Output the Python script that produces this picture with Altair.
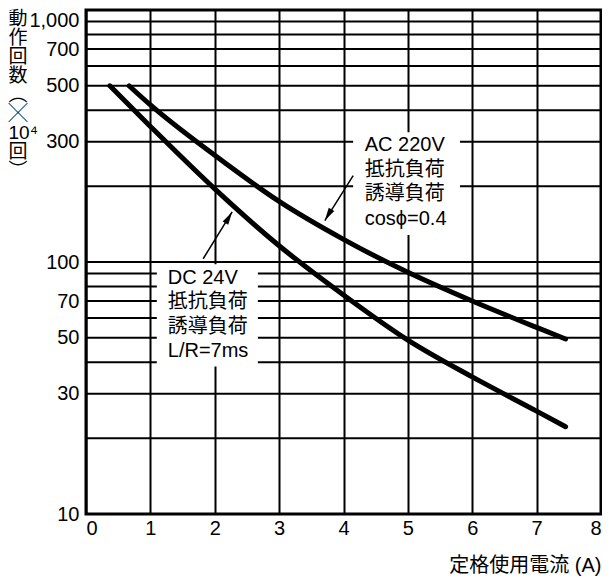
import altair as alt
import pandas as pd

# ---- data ----
dc_current = [0.37, 1, 2, 3, 4, 5, 6, 7, 7.45]
dc_ops = [500, 345, 195, 116, 74, 49, 35, 25.6, 22.2]
ac_current = [0.67, 1, 2, 3, 4, 5, 6, 7, 7.45]
ac_ops = [500, 420, 265, 174, 123, 91, 70, 55, 49.5]

x_ticks = [0, 1, 2, 3, 4, 5, 6, 7, 8]
y_labels = [10, 30, 50, 70, 100, 300, 500, 700, 1000]
y_grid = [20, 30, 40, 50, 60, 70, 80, 90, 100, 200, 300, 400, 500, 600, 700, 800, 900]

ac_text = ["AC 220V", "抵抗負荷", "誘導負荷", "cosϕ=0.4"]
dc_text = ["DC 24V", "抵抗負荷", "誘導負荷", "L/R=7ms"]

# annotation anchors (data units)
label_x = [4.33, 1.27]
label_y = [290, 86.7]
box_x1 = [4.15, 1.10]
box_x2 = [5.81, 2.67]
box_y1 = [128, 38.5]
box_y2 = [327, 98]
arrow_x0 = [4.15, 1.82]
arrow_y0 = [220, 103]
arrow_x1 = [3.71, 2.27]
arrow_y1 = [146, 158]
arrow_angle = [211, 31]

y_title = ["動", "作", "回", "数", "︵", "╳", "10⁴", "回", "︶"]
x_title = "定格使用電流 (A)"

FONT = "Liberation Sans, Noto Sans CJK JP"

curves = pd.DataFrame({
    "current": dc_current + ac_current,
    "ops": dc_ops + ac_ops,
    "series": ["DC"] * len(dc_current) + ["AC"] * len(ac_current),
})
grid_df = pd.DataFrame({"v": y_grid})
boxes = pd.DataFrame({"x1": box_x1, "x2": box_x2, "y1": box_y1, "y2": box_y2})
labels = pd.DataFrame({"x": label_x, "y": label_y,
                       "text": ["\n".join(ac_text), "\n".join(dc_text)]})
arrows = pd.DataFrame({"x0": arrow_x0, "y0": arrow_y0, "x1": arrow_x1,
                       "y1": arrow_y1, "angle": arrow_angle})

x_scale = alt.Scale(domain=[0, 8], nice=False, zero=False)
y_scale = alt.Scale(type="log", domain=[10, 1000], nice=False)

x_axis = alt.Axis(
    values=x_ticks, grid=True, gridColor="black", gridWidth=2, gridOpacity=1,
    ticks=False, domain=False, labelFont=FONT, labelFontSize=20,
    labelColor="black", labelPadding=4, labelFlush=True,
    labelBaseline="top",
    title=x_title, titleFont=FONT, titleFontSize=20, titleFontWeight="normal",
    titleColor="black", titleAlign="right", titleBaseline="alphabetic",
    titleX=515, titleY=57,
)
y_axis = alt.Axis(
    values=y_labels, format=",d", grid=False, ticks=False, domain=False,
    labelFont=FONT, labelFontSize=20, labelColor="black", labelPadding=7,
    labelFlush=False,
    labelBaseline={"condition": {"test": "datum.value >= 1000", "value": "top"}, "value": "middle"},
    title=y_title, titleAngle=0, titleFont=FONT, titleFontSize=19,
    titleFontWeight="normal", titleColor="black", titleAlign="left",
    titleBaseline="top", titleLineHeight=19, titleX=-78, titleY=-1,
)

hgrid = alt.Chart(grid_df).mark_rule(color="black", strokeWidth=2).encode(
    y=alt.Y("v:Q", scale=y_scale, axis=y_axis)
)

box_layer = alt.Chart(boxes).mark_rect(color="white").encode(
    x=alt.X("x1:Q", scale=x_scale, axis=x_axis), x2="x2:Q",
    y=alt.Y("y1:Q", scale=y_scale, axis=y_axis), y2="y2:Q",
)

curve_layer = alt.Chart(curves).mark_line(
    color="black", strokeWidth=5, interpolate="monotone", strokeCap="round"
).encode(
    x=alt.X("current:Q", scale=x_scale, axis=x_axis),
    y=alt.Y("ops:Q", scale=y_scale, axis=y_axis),
    detail="series:N",
)

shaft = alt.Chart(arrows).mark_rule(color="black", strokeWidth=1.5).encode(
    x=alt.X("x0:Q", scale=x_scale, axis=x_axis), x2="x1:Q",
    y=alt.Y("y0:Q", scale=y_scale, axis=y_axis), y2="y1:Q",
)

head = alt.Chart(arrows).mark_point(
    shape="M0,0L-0.25,1L0.25,1Z", filled=True, color="black", opacity=1,
    size=676, strokeWidth=0,
).encode(
    x=alt.X("x1:Q", scale=x_scale, axis=x_axis),
    y=alt.Y("y1:Q", scale=y_scale, axis=y_axis),
    angle=alt.Angle("angle:Q", scale=None),
)

text_layer = alt.Chart(labels).mark_text(
    align="left", baseline="middle", lineBreak="\n", lineHeight=24.5,
    fontSize=20, font=FONT, color="black",
).encode(
    x=alt.X("x:Q", scale=x_scale, axis=x_axis),
    y=alt.Y("y:Q", scale=y_scale, axis=y_axis),
    text="text:N",
)

chart = alt.layer(hgrid, box_layer, curve_layer, shaft, head, text_layer).properties(
    width=515, height=504,
    autosize=alt.AutoSizeParams(type="none"),
    padding={"left": 78, "top": 2, "right": 1, "bottom": 63},
).configure_view(stroke="black", strokeWidth=3)

chart.save("out.html", embed_options={"renderer": "svg", "actions": False})
